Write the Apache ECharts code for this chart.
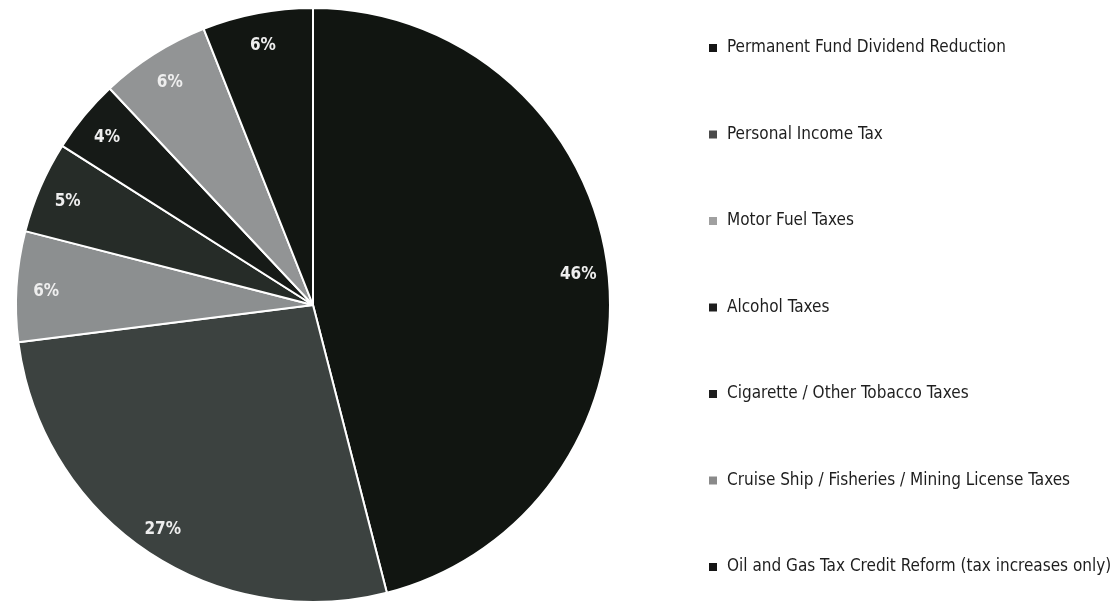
<!DOCTYPE html>
<html>
<head>
<meta charset="utf-8">
<script src="https://cdn.jsdelivr.net/npm/echarts@6/dist/echarts.min.js"></script>
<style>
  html, body { margin: 0; padding: 0; background: #ffffff; }
  #chart { width: 1116px; height: 603px; }
</style>
</head>
<body>
<div id="chart"></div>
<script>
// Revenue measures and their share of the total (percent)
const categories = [
  'Permanent Fund Dividend Reduction',
  'Personal Income Tax',
  'Motor Fuel Taxes',
  'Alcohol Taxes',
  'Cigarette / Other Tobacco Taxes',
  'Cruise Ship / Fisheries / Mining License Taxes',
  'Oil and Gas Tax Credit Reform (tax increases only)'
];
const shares = [46, 27, 6, 5, 4, 6, 6];

// Slice fills and legend swatches
const sliceColors = ['#111511', '#3c4240', '#8c8f90', '#262c28', '#161a17', '#929495', '#121612'];
const swatchColors = ['#151515', '#4a4a4a', '#a0a0a0', '#1e1e1e', '#1e1e1e', '#8a8a8a', '#151515'];

const FONT = "'DejaVu Sans Condensed', 'DejaVu Sans', sans-serif";
const CX = 313, CY = 305, R = 297;

const chart = echarts.init(document.getElementById('chart'), null, { renderer: 'canvas' });

const sliceData = categories.map((name, i) => ({
  name, value: shares[i], itemStyle: { color: sliceColors[i] }
}));
const labelData = categories.map((name, i) => ({ name, value: shares[i] }));

chart.setOption({
  animation: false,
  backgroundColor: '#ffffff',
  legend: {
    orient: 'vertical',
    left: 702,
    top: 33,
    itemWidth: 10,
    itemHeight: 10,
    itemGap: 66.5,
    icon: 'rect',
    selectedMode: false,
    data: categories.map((name, i) => ({ name, itemStyle: { color: swatchColors[i] } })),
    textStyle: {
      fontFamily: FONT,
      fontSize: 17,
      fontWeight: 'normal',
      color: '#1e1e1e',
      lineHeight: 20,
      padding: [0, 0, 0, 4]
    }
  },
  series: [
    {
      // the slices
      type: 'pie',
      center: [CX, CY],
      radius: [0, R],
      startAngle: 90,
      clockwise: true,
      silent: true,
      label: { show: false },
      labelLine: { show: false },
      itemStyle: { borderColor: '#ffffff', borderWidth: 2 },
      data: sliceData
    },
    {
      // transparent ring carrying the percentage labels near the rim
      type: 'pie',
      center: [CX, CY],
      radius: [R * 0.78, R],
      startAngle: 90,
      clockwise: true,
      silent: true,
      itemStyle: { color: 'rgba(0,0,0,0)', borderWidth: 0 },
      label: {
        show: true,
        position: 'inside',
        formatter: '{c}%',
        fontFamily: FONT,
        fontSize: 17,
        fontWeight: 'bold',
        color: '#eeeeee',
        offset: [0, 3]
      },
      labelLine: { show: false },
      data: labelData
    }
  ]
});
</script>
</body>
</html>
